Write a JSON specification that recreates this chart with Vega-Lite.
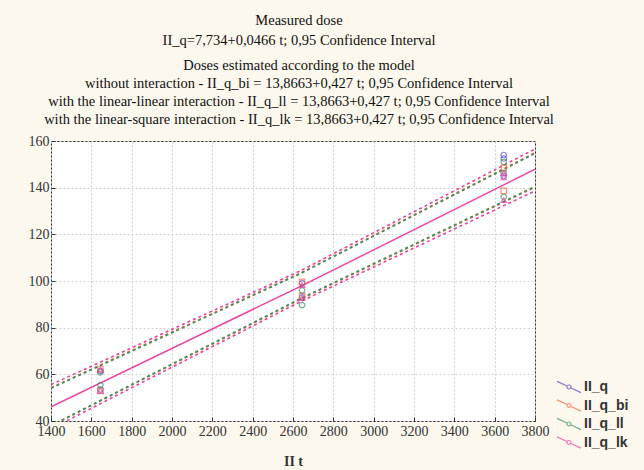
{
  "$schema": "https://vega.github.io/schema/vega-lite/v6.json",
  "autosize": {"type": "none"},
  "width": 484,
  "height": 280,
  "padding": {"left": 51, "top": 141, "right": 109, "bottom": 49},
  "background": "#fcf8ed",
  "title": {
    "text": ["Measured dose", "II_q=7,734+0,0466 t; 0,95 Confidence Interval"],
    "subtitle": [
      "Doses estimated according to the model",
      "without interaction - II_q_bi = 13,8663+0,427 t; 0,95 Confidence Interval",
      "with the linear-linear interaction - II_q_ll = 13,8663+0,427 t; 0,95 Confidence Interval",
      "with the linear-square interaction - II_q_lk = 13,8663+0,427 t; 0,95 Confidence Interval"
    ],
    "anchor": "middle",
    "offset": 6.5,
    "dx": 6
  },
  "config": {
    "view": {"fill": "white", "stroke": "#333333", "strokeWidth": 1},
    "title": {
      "font": "Liberation Serif", "fontSize": 14.5, "fontWeight": "normal", "color": "#111111", "lineHeight": 20,
      "subtitleFont": "Liberation Serif", "subtitleFontSize": 14.5, "subtitleColor": "#111111", "subtitleLineHeight": 18, "subtitlePadding": 11
    },
    "axis": {
      "labelFont": "Liberation Serif", "labelFontSize": 14, "labelColor": "#333333",
      "gridColor": "#d0d0d0", "gridDash": [2, 2], "gridWidth": 1,
      "domain": false, "tickColor": "#333333", "tickSize": -4
    },
    "legend": {
      "labelFont": "Liberation Sans", "labelFontSize": 14, "labelFontWeight": "bold", "labelColor": "#333333",
      "padding": 0
    },
    "point": {"filled": false, "size": 30, "strokeWidth": 1.2, "clip": true}
  },
  "datasets": {
    "pts": [
      {"series": "II_q", "t": 1645, "dose": 61.5},
      {"series": "II_q", "t": 1645, "dose": 53.5},
      {"series": "II_q", "t": 2645, "dose": 99.0},
      {"series": "II_q", "t": 2645, "dose": 93.0},
      {"series": "II_q", "t": 3645, "dose": 154.0},
      {"series": "II_q", "t": 3645, "dose": 152.5},
      {"series": "II_q", "t": 3645, "dose": 145.0},
      {"series": "II_q_bi", "t": 1645, "dose": 62.3},
      {"series": "II_q_bi", "t": 1645, "dose": 52.9},
      {"series": "II_q_bi", "t": 2645, "dose": 99.6},
      {"series": "II_q_bi", "t": 2645, "dose": 93.6},
      {"series": "II_q_bi", "t": 3645, "dose": 148.4},
      {"series": "II_q_bi", "t": 3645, "dose": 138.6},
      {"series": "II_q_ll", "t": 1645, "dose": 60.8},
      {"series": "II_q_ll", "t": 1645, "dose": 55.4},
      {"series": "II_q_ll", "t": 2645, "dose": 96.0},
      {"series": "II_q_ll", "t": 2645, "dose": 89.7},
      {"series": "II_q_ll", "t": 3645, "dose": 151.1},
      {"series": "II_q_ll", "t": 3645, "dose": 146.3},
      {"series": "II_q_ll", "t": 3645, "dose": 136.0},
      {"series": "II_q_lk", "t": 1645, "dose": 62.0},
      {"series": "II_q_lk", "t": 1645, "dose": 53.0},
      {"series": "II_q_lk", "t": 2645, "dose": 98.3},
      {"series": "II_q_lk", "t": 2645, "dose": 92.7},
      {"series": "II_q_lk", "t": 3645, "dose": 144.5},
      {"series": "II_q_lk", "t": 3645, "dose": 146.3},
      {"series": "II_q_lk", "t": 3645, "dose": 134.7}
    ],
    "ci": [
      {"series": "II_q_bi", "bound": "upper", "t": 1400, "dose": 54.3},
      {"series": "II_q_bi", "bound": "upper", "t": 2640, "dose": 103.5},
      {"series": "II_q_bi", "bound": "upper", "t": 3800, "dose": 155.0},
      {"series": "II_q_bi", "bound": "lower", "t": 1400, "dose": 37.8},
      {"series": "II_q_bi", "bound": "lower", "t": 2640, "dose": 92.3},
      {"series": "II_q_bi", "bound": "lower", "t": 3800, "dose": 140.2},
      {"series": "II_q_ll", "bound": "upper", "t": 1400, "dose": 54.0},
      {"series": "II_q_ll", "bound": "upper", "t": 2640, "dose": 103.3},
      {"series": "II_q_ll", "bound": "upper", "t": 3800, "dose": 154.7},
      {"series": "II_q_ll", "bound": "lower", "t": 1400, "dose": 38.0},
      {"series": "II_q_ll", "bound": "lower", "t": 2640, "dose": 92.6},
      {"series": "II_q_ll", "bound": "lower", "t": 3800, "dose": 140.5},
      {"series": "II_q_lk", "bound": "upper", "t": 1400, "dose": 55.6},
      {"series": "II_q_lk", "bound": "upper", "t": 2640, "dose": 104.5},
      {"series": "II_q_lk", "bound": "upper", "t": 3800, "dose": 156.6},
      {"series": "II_q_lk", "bound": "lower", "t": 1400, "dose": 36.6},
      {"series": "II_q_lk", "bound": "lower", "t": 2640, "dose": 91.3},
      {"series": "II_q_lk", "bound": "lower", "t": 3800, "dose": 138.6}
    ],
    "fit": [
      {"series": "II_q_lk", "t": 1400, "dose": 46.1},
      {"series": "II_q_lk", "t": 2640, "dose": 97.8},
      {"series": "II_q_lk", "t": 3800, "dose": 147.9}
    ]
  },
  "encoding": {
    "x": {
      "field": "t", "type": "quantitative",
      "scale": {"domain": [1400, 3800], "nice": false, "zero": false},
      "axis": {
        "values": [1400, 1600, 1800, 2000, 2200, 2400, 2600, 2800, 3000, 3200, 3400, 3600, 3800],
        "format": "d",
        "title": "II  t", "titleFont": "Liberation Serif", "titleFontSize": 14, "titleFontWeight": "bold",
        "titleColor": "#333333", "titlePadding": 16, "labelPadding": 7, "labelFlush": false
      }
    },
    "y": {
      "field": "dose", "type": "quantitative",
      "scale": {"domain": [40, 160], "nice": false, "zero": false},
      "axis": {"values": [40, 60, 80, 100, 120, 140, 160], "format": "d", "title": null, "labelPadding": 6}
    },
    "color": {
      "field": "series", "type": "nominal",
      "scale": {"domain": ["II_q", "II_q_bi", "II_q_ll", "II_q_lk"], "range": ["#5548c8", "#f0653c", "#3f8f5c", "#e8409f"]},
      "legend": {
        "title": null, "orient": "none", "legendX": 509, "legendY": 237,
        "symbolType": "M-1.5,-0.7L-0.25,-0.12M0.25,0.12L1.5,0.7M-0.25,0A0.25,0.25 0 1,1 0.25,0A0.25,0.25 0 1,1 -0.25,0Z",
        "symbolSize": 256, "symbolStrokeWidth": 1.5, "symbolFillColor": "transparent",
        "rowPadding": 1.5, "labelOffset": 6
      }
    }
  },
  "layer": [
    {
      "data": {"name": "ci"},
      "mark": {"type": "line", "clip": true, "strokeDash": [3, 3], "strokeWidth": 1.6},
      "encoding": {"detail": {"field": "bound"}}
    },
    {
      "data": {"name": "fit"},
      "mark": {"type": "line", "clip": true, "strokeWidth": 1.4}
    },
    {
      "data": {"name": "pts"},
      "transform": [{"filter": "datum.series === 'II_q'"}],
      "mark": {"type": "point", "shape": "circle"}
    },
    {
      "data": {"name": "pts"},
      "transform": [{"filter": "datum.series === 'II_q_bi'"}],
      "mark": {"type": "point", "shape": "square"}
    },
    {
      "data": {"name": "pts"},
      "transform": [{"filter": "datum.series === 'II_q_ll'"}],
      "mark": {"type": "point", "shape": "circle"}
    },
    {
      "data": {"name": "pts"},
      "transform": [{"filter": "datum.series === 'II_q_lk'"}],
      "mark": {"type": "point", "shape": "triangle-up"}
    }
  ]
}
